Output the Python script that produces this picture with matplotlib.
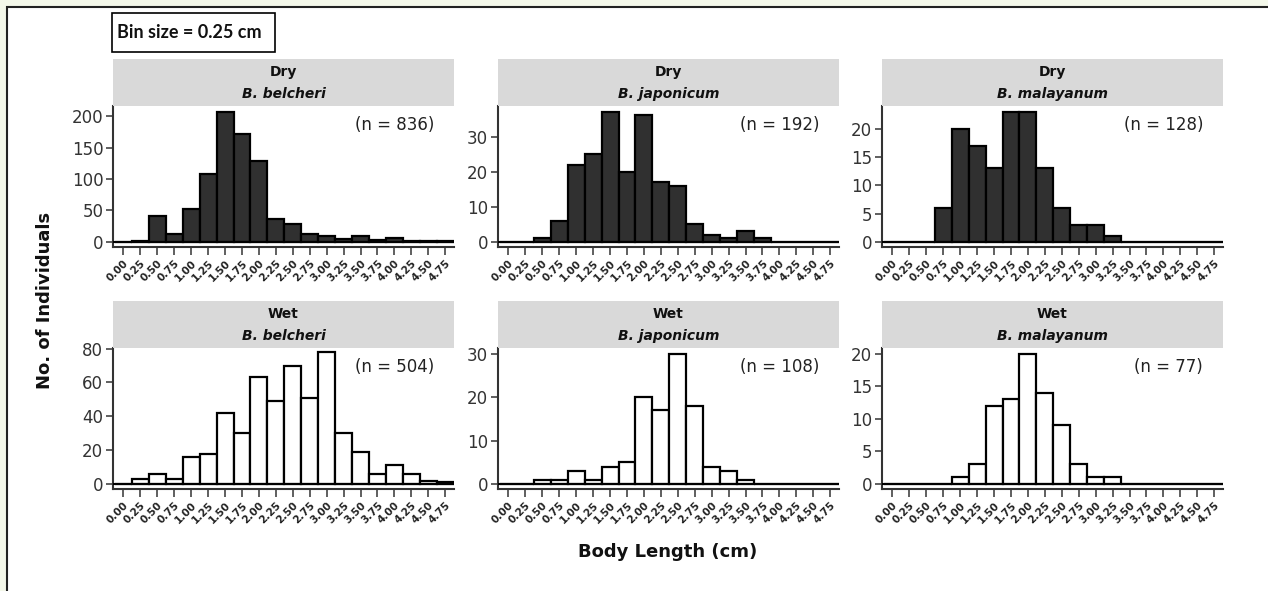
import matplotlib.pyplot as plt
from matplotlib.patches import Rectangle

# bin centres (cm), bin size 0.25 cm
bins = [0.00, 0.25, 0.50, 0.75, 1.00, 1.25, 1.50, 1.75, 2.00, 2.25,
        2.50, 2.75, 3.00, 3.25, 3.50, 3.75, 4.00, 4.25, 4.50, 4.75]
bin_labels = ['0.00', '0.25', '0.50', '0.75', '1.00', '1.25', '1.50', '1.75', '2.00', '2.25',
              '2.50', '2.75', '3.00', '3.25', '3.50', '3.75', '4.00', '4.25', '4.50', '4.75']

seasons = ['Dry', 'Wet']
species = ['B. belcheri', 'B. japonicum', 'B. malayanum']

# counts per bin
dry_belcheri = [0, 1, 41, 13, 53, 108, 206, 172, 128, 37, 28, 12, 10, 5, 9, 3, 6, 2, 1, 1]
dry_japonicum = [0, 0, 1, 6, 22, 25, 37, 20, 36, 17, 16, 5, 2, 1, 3, 1, 0, 0, 0, 0]
dry_malayanum = [0, 0, 0, 6, 20, 17, 13, 23, 23, 13, 6, 3, 3, 1, 0, 0, 0, 0, 0, 0]
wet_belcheri = [0, 3, 6, 3, 16, 18, 42, 30, 63, 49, 70, 51, 78, 30, 19, 6, 11, 6, 2, 1]
wet_japonicum = [0, 0, 1, 1, 3, 1, 4, 5, 20, 17, 30, 18, 4, 3, 1, 0, 0, 0, 0, 0]
wet_malayanum = [0, 0, 0, 0, 1, 3, 12, 13, 20, 14, 9, 3, 1, 1, 0, 0, 0, 0, 0, 0]

n_dry = [836, 192, 128]
n_wet = [504, 108, 77]

yticks_dry = [[0, 50, 100, 150, 200], [0, 10, 20, 30], [0, 5, 10, 15, 20]]
yticks_wet = [[0, 20, 40, 60, 80], [0, 10, 20, 30], [0, 5, 10, 15, 20]]
ytop_dry = [216, 38.7, 24.0]
ytop_wet = [80.4, 31.3, 20.9]

counts = [[dry_belcheri, dry_japonicum, dry_malayanum],
          [wet_belcheri, wet_japonicum, wet_malayanum]]
ns = [n_dry, n_wet]
yticks = [yticks_dry, yticks_wet]
ytops = [ytop_dry, ytop_wet]
fills = ['#303030', 'white']

W, H = 1268, 591


def box(left, top, w, h):
    return [left / W, 1 - (top + h) / H, w / W, h / H]


fig = plt.figure(figsize=(W / 100, H / 100), dpi=100, facecolor='#f4f8ea')

# white page with dark frame (behind the axes)
fig.patches.append(Rectangle((7 / W, -0.1), 1.2, 1.1 - 7 / H, transform=fig.transFigure,
                             facecolor='white', edgecolor='#222222', linewidth=1.5, zorder=-5))

lefts = [113, 498, 882]
axw, axh = 341, 141
row_tops = [106, 348]
strip_tops = [59, 301]
strip_h = 47

for r in range(2):
    for c in range(3):
        ax = fig.add_axes(box(lefts[c], row_tops[r], axw, axh))
        ax.set_facecolor('none')
        ax.bar(bins, counts[r][c], width=0.25, color=fills[r], edgecolor='black',
               linewidth=1.6, zorder=2)
        ax.axhline(0, color='black', linewidth=1.5, zorder=3)
        top = ytops[r][c]
        ax.set_ylim(-0.037 * top, top)
        ax.set_xlim(-0.155, 4.88)
        ax.set_yticks(yticks[r][c])
        ax.set_xticks(bins, bin_labels, rotation=45, ha='right', rotation_mode='anchor',
                      fontsize=7.5, fontweight='bold', color='#222222')
        for lab in ax.get_yticklabels():
            lab.set_fontsize(12)
            lab.set_color('#333333')
        ax.tick_params(axis='x', length=6, width=1.2, color='#444444', pad=2)
        ax.tick_params(axis='y', length=5, width=1.2, color='#444444', pad=2)
        for s in ['top', 'right']:
            ax.spines[s].set_visible(False)
        for s in ['left', 'bottom']:
            ax.spines[s].set_linewidth(1.5)
            ax.spines[s].set_color('#333333')
        ax.text(1 - 20 / axw, 1 - 10 / axh, '(n = %d)' % ns[r][c], transform=ax.transAxes,
                ha='right', va='top', fontsize=12, color='#222222')

        # facet strip
        sax = fig.add_axes(box(lefts[c], strip_tops[r], axw, strip_h))
        sax.set_facecolor('#d9d9d9')
        sax.set_xticks([])
        sax.set_yticks([])
        for s in sax.spines.values():
            s.set_visible(False)
        sax.text(0.5, 0.72, seasons[r], ha='center', va='center', fontsize=10,
                 fontweight='bold', color='#111111', transform=sax.transAxes)
        sax.text(0.5, 0.26, species[c], ha='center', va='center', fontsize=10,
                 fontweight='bold', style='italic', color='#111111', transform=sax.transAxes)

fig.text(45 / W, 1 - 300 / H, 'No. of Individuals', rotation=90, ha='center', va='center',
         fontsize=13, fontweight='bold', color='#111111')
fig.text(668 / W, 1 - 552 / H, 'Body Length (cm)', ha='center', va='center',
         fontsize=13, fontweight='bold', color='#111111')

# bin size note
fig.patches.append(Rectangle((112 / W, 1 - 52 / H), 163 / W, 39 / H, transform=fig.transFigure,
                             facecolor='white', edgecolor='black', linewidth=1.2))
fig.text(117 / W, 1 - 32.5 / H, 'Bin size = 0.25 cm', ha='left', va='center',
         fontsize=13, fontweight='bold', family=['Lato', 'DejaVu Sans'], color='#111111')

fig.savefig('out.png', dpi=100, facecolor=fig.get_facecolor())
